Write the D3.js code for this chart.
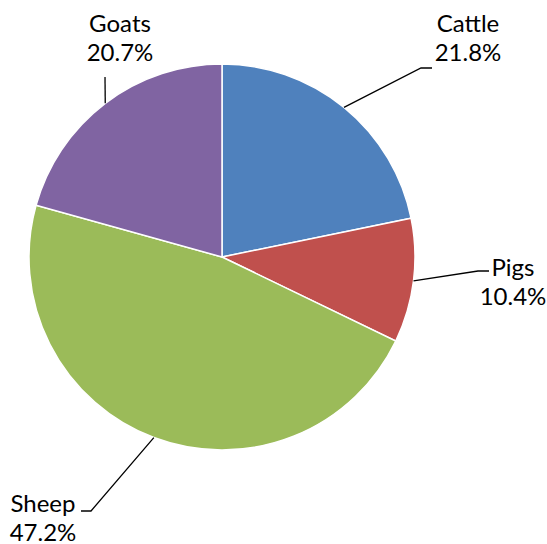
<!DOCTYPE html>
<html><head><meta charset="utf-8">
<script src="https://cdn.jsdelivr.net/npm/d3@7"></script>
<style>body{margin:0;background:#fff}svg{display:block}</style>
</head><body>
<svg id="c" width="547" height="544"></svg>
<script>
const categories = ["Cattle", "Pigs", "Sheep", "Goats"];
const values = [21.8, 10.4, 47.2, 20.7];
const labels = ["21.8%", "10.4%", "47.2%", "20.7%"];
const colors = ["#4F81BD", "#C0504D", "#9BBB59", "#8064A2"];

const svg = d3.select("#c");
const cx = 222, cy = 257, R = 193;
const g = svg.append("g").attr("transform", `translate(${cx},${cy})`);
const data = categories.map((c, i) => ({name: c, value: values[i], label: labels[i], color: colors[i]}));
const pie = d3.pie().value(d => d.value).sort(null);
const arc = d3.arc().innerRadius(0).outerRadius(R);
const arcs = pie(data);
g.selectAll("path").data(arcs).join("path")
  .attr("d", arc).attr("fill", d => d.data.color)
  .attr("stroke", "#fff").attr("stroke-width", 1.5);

const layout = {
  Cattle: {bend: [421, 68], end: [432, 68], tx: 468, ty: 32},
  Pigs:   {bend: [478, 271], end: [489, 271], tx: 513, ty: 276},
  Sheep:  {bend: [91, 511], end: [81, 511], tx: 43, ty: 512},
  Goats:  {bend: [105, 77], end: [105, 77], tx: 120, ty: 32}
};
arcs.forEach(a => {
  const L = layout[a.data.name];
  const m = (a.startAngle + a.endAngle) / 2;
  const p = [cx + R * Math.sin(m), cy - R * Math.cos(m)];
  svg.append("polyline")
    .attr("points", [p, L.bend, L.end].map(q => q.join(",")).join(" "))
    .attr("fill", "none").attr("stroke", "#000").attr("stroke-width", 1.3);
  const t = svg.append("text").attr("text-anchor", "middle")
    .attr("font-family", "Lato, 'Open Sans', sans-serif").attr("font-size", 24).attr("fill", "#000");
  t.append("tspan").attr("x", L.tx).attr("y", L.ty).text(a.data.name);
  t.append("tspan").attr("x", L.tx).attr("y", L.ty + 29).text(a.data.label);
});
</script>
</body></html>
